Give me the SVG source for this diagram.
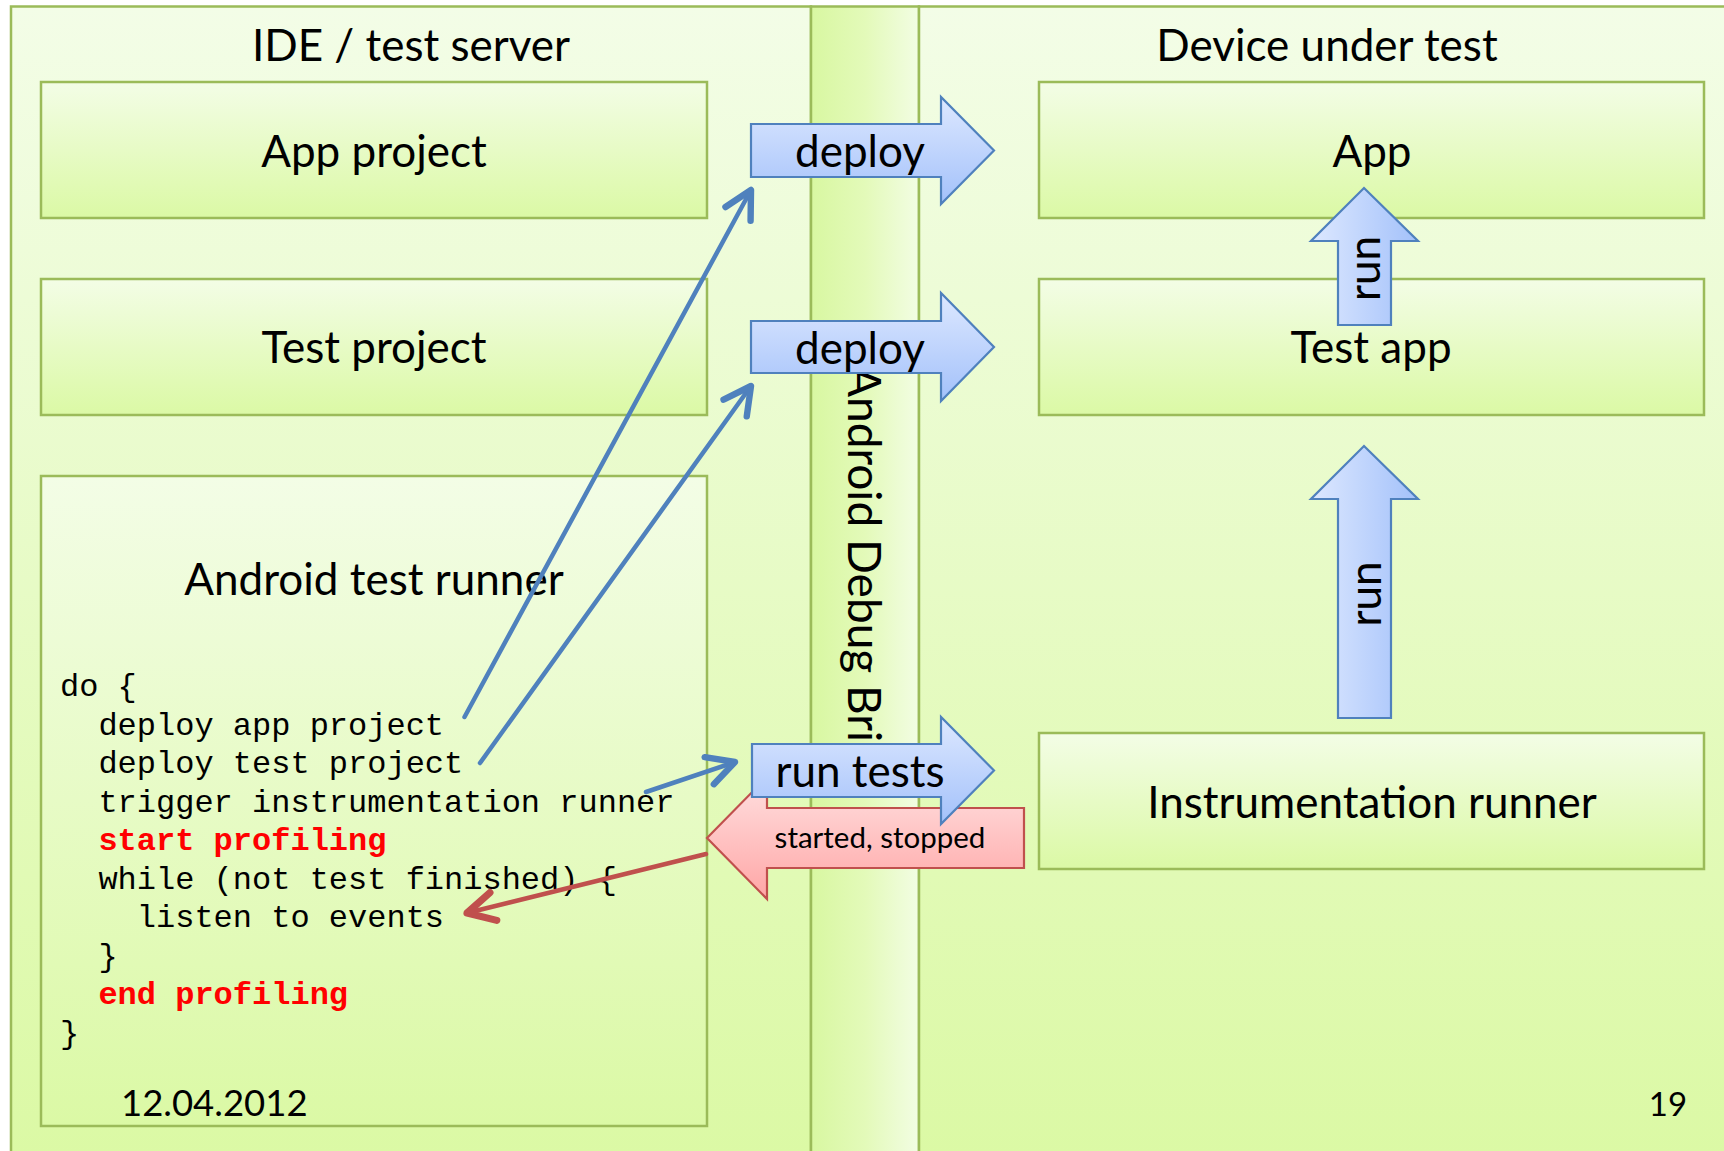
<svg xmlns="http://www.w3.org/2000/svg" width="1724" height="1151" viewBox="0 0 1724 1151">
<defs>
<linearGradient id="gPanel" x1="0" y1="0" x2="0" y2="1">
<stop offset="0" stop-color="#f3fde7"/><stop offset="1" stop-color="#dbf9a4"/>
</linearGradient>
<linearGradient id="gBox" x1="0" y1="0" x2="0" y2="1">
<stop offset="0" stop-color="#f3fde6"/><stop offset="1" stop-color="#dbf9a5"/>
</linearGradient>
<linearGradient id="gStrip" x1="0" y1="0" x2="1" y2="0">
<stop offset="0" stop-color="#d8f7a1"/><stop offset="0.5" stop-color="#e3fab9"/><stop offset="1" stop-color="#f2fde3"/>
</linearGradient>
<linearGradient id="gBlueH" x1="0" y1="0" x2="0" y2="1">
<stop offset="0" stop-color="#dde8ff"/><stop offset="1" stop-color="#a3c1fa"/>
</linearGradient>
<linearGradient id="gBlueV" x1="0" y1="0" x2="1" y2="0">
<stop offset="0" stop-color="#dde8ff"/><stop offset="1" stop-color="#a3c1fa"/>
</linearGradient>
<linearGradient id="gRed" x1="0" y1="0" x2="0" y2="1">
<stop offset="0" stop-color="#ffe0e0"/><stop offset="1" stop-color="#ffa6a6"/>
</linearGradient>
<clipPath id="adbClip"><rect x="800" y="300" width="130" height="495"/></clipPath>
<marker id="mBlue" markerUnits="userSpaceOnUse" markerWidth="40" markerHeight="40" viewBox="-24 -14 28 28" refX="0" refY="0" orient="auto">
<path d="M-19,-10 L0,0 L-19,10" fill="none" stroke="#4f81bd" stroke-width="4.5" stroke-linecap="round" stroke-linejoin="round"/>
</marker>
<marker id="mRed" markerUnits="userSpaceOnUse" markerWidth="40" markerHeight="40" viewBox="-24 -14 28 28" refX="0" refY="0" orient="auto">
<path d="M-19,-10 L0,0 L-19,10" fill="none" stroke="#c0504d" stroke-width="5" stroke-linecap="round" stroke-linejoin="round"/>
</marker>
<style>
.panel{fill:url(#gPanel);stroke:#9bbb59;stroke-width:2.5}
.box{fill:url(#gBox);stroke:#9bbb59;stroke-width:2.5}
.t{font-family:Lato,"Liberation Sans",sans-serif;fill:#000}
.lbl{font-size:44px;text-anchor:middle}
.blue{stroke:#4f81bd;stroke-width:2.2}
.code{font-family:"Liberation Mono","Courier New",monospace;font-size:32px;fill:#000}
.red{fill:#ff0000;font-weight:bold}
.conn{fill:none;stroke-width:4.5;stroke-linecap:round}
</style>
</defs>
<rect width="1724" height="1151" fill="#ffffff"/>
<g id="panels">
<rect class="panel" x="11" y="6.5" width="800" height="1160"/>
<rect x="811" y="6.5" width="108" height="1160" fill="url(#gStrip)" stroke="#9bbb59" stroke-width="2.5"/>
<rect class="panel" x="919" y="6.5" width="830" height="1160"/>
<text class="t lbl" x="411" y="61" font-size="43.5">IDE / test server</text>
<text class="t lbl" x="1327" y="61" font-size="43.5">Device under test</text>
<g clip-path="url(#adbClip)">
<text class="t" x="848" y="366" font-size="46" transform="rotate(90 848 366)">Android Debug Bridge</text>
</g>
</g>
<g id="app-project">
<rect class="box" x="41" y="82" width="666" height="136"/>
<text class="t lbl" x="374" y="167">App project</text>
</g>
<g id="test-project">
<rect class="box" x="41" y="279" width="666" height="136"/>
<text class="t lbl" x="374" y="363">Test project</text>
</g>
<g id="android-test-runner">
<rect class="box" x="41" y="476" width="666" height="650"/>
<text class="t lbl" x="374" y="595" font-size="44.5">Android test runner</text>
<text class="code" x="60" y="696">do {</text>
<text class="code" x="98.4" y="734.5">deploy app project</text>
<text class="code" x="98.4" y="773">deploy test project</text>
<text class="code" x="98.4" y="811.5">trigger instrumentation runner</text>
<text class="code red" x="98.4" y="850">start profiling</text>
<text class="code" x="98.4" y="888.5">while (not test finished) {</text>
<text class="code" x="136.8" y="927">listen to events</text>
<text class="code" x="98.4" y="965.5">}</text>
<text class="code red" x="98.4" y="1004">end profiling</text>
<text class="code" x="60" y="1042.5">}</text>
<text class="t" x="121" y="1116" font-size="36.5">12.04.2012</text>
</g>
<g id="app">
<rect class="box" x="1039" y="82" width="665" height="136"/>
<text class="t lbl" x="1372" y="167">App</text>
</g>
<g id="test-app">
<rect class="box" x="1039" y="279" width="665" height="136"/>
<text class="t lbl" x="1371" y="363">Test app</text>
</g>
<g id="instrumentation-runner">
<rect class="box" x="1039" y="733" width="665" height="136"/>
<text class="t lbl" x="1372" y="818" font-size="45">Instrumentation runner</text>
</g>
<g id="page-number">
<text class="t" x="1668" y="1116" font-size="33" text-anchor="middle">19</text>
</g>
<g id="deploy-app">
<path class="blue" fill="url(#gBlueH)" d="M751,124 H941 V97 L994,150.5 L941,204 V177 H751 Z"/>
<text class="t lbl" x="860" y="167">deploy</text>
</g>
<g id="deploy-test">
<path class="blue" fill="url(#gBlueH)" d="M751,321 H941 V293 L994,347 L941,401 V373 H751 Z"/>
<text class="t lbl" x="860" y="363.5">deploy</text>
</g>
<g id="started-stopped">
<path fill="url(#gRed)" stroke="#c0504d" stroke-width="2.2" d="M707,838 L767,777 V808 H1024 V868 H767 V899 Z"/>
<text class="t" x="880" y="848" font-size="29.5" text-anchor="middle">started, stopped</text>
</g>
<g id="run-tests">
<path class="blue" fill="url(#gBlueH)" d="M752,744 H941 V717 L994,770.5 L941,824 V797 H752 Z"/>
<text class="t lbl" x="860" y="787">run tests</text>
</g>
<g id="run-app">
<path class="blue" fill="url(#gBlueV)" d="M1364,188 L1418,241 H1391 V325 H1338 V241 H1311 Z"/>
<text class="t lbl" transform="translate(1380,268.5) rotate(-90)" x="0" y="0">run</text>
</g>
<g id="run-test-app">
<path class="blue" fill="url(#gBlueV)" d="M1364,446 L1418,499 H1391 V718 H1338 V499 H1311 Z"/>
<text class="t lbl" transform="translate(1381,594) rotate(-90)" x="0" y="0">run</text>
</g>
<g id="connectors">
<line class="conn" stroke="#4f81bd" x1="464.5" y1="717" x2="751" y2="190" marker-end="url(#mBlue)"/>
<line class="conn" stroke="#4f81bd" x1="480" y1="763" x2="751" y2="386" marker-end="url(#mBlue)"/>
<line class="conn" stroke="#4f81bd" x1="646" y1="792" x2="735" y2="762" marker-end="url(#mBlue)"/>
<line class="conn" stroke="#c0504d" stroke-width="5" x1="706" y1="854" x2="467" y2="913" marker-end="url(#mRed)"/>
</g>
</svg>
